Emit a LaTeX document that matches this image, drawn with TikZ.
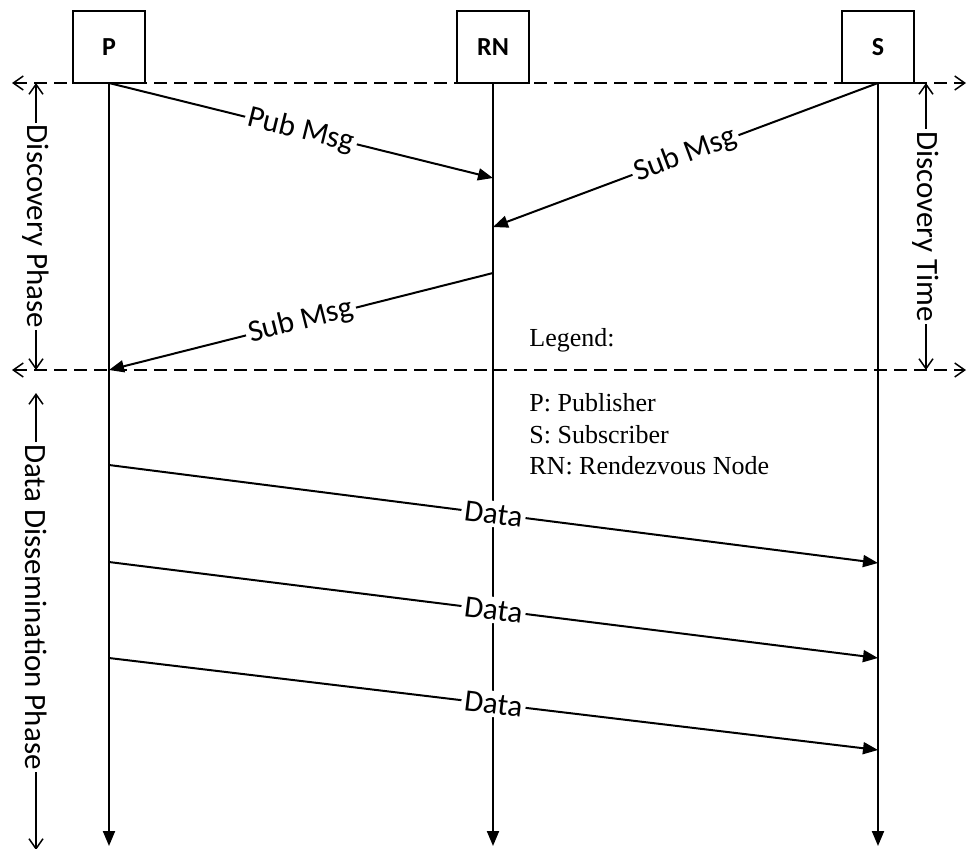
\documentclass[tikz,border=0pt]{standalone}
\usepackage{fontspec}
\setmainfont{Carlito}
\newfontfamily\legendfont{Liberation Serif}
\usetikzlibrary{arrows.meta}

\tikzset{
    barb/.tip={Straight Barb[length=5pt, width=7pt, line width=0.75pt]},
    actor/.style={draw, line width=1pt, minimum size=36pt, inner sep=0pt,
        font=\fontsize{13}{15}\selectfont\bfseries},
    lifeline/.style={line width=1pt, -{Triangle[length=7.5pt, width=6pt]}},
    msg/.style={line width=1pt, -{Triangle[length=7.5pt, width=6pt]}},
    msglabel/.style={midway, sloped, fill=white, inner sep=1.5pt,
        font=\fontsize{15.5}{18}\selectfont},
    phase/.style={line width=1pt, dash pattern=on 6.5pt off 3.5pt, barb-barb},
    dim/.style={line width=0.75pt, barb-barb},
    dimlabel/.style={rotate=-90, fill=white, inner sep=1pt,
        font=\fontsize{15.5}{18}\selectfont},
    legendtext/.style={anchor=base west, inner sep=0pt,
        font=\legendfont\fontsize{13}{15}\selectfont},
}

\begin{document}
\begin{tikzpicture}[x=0.5pt, y=-0.5pt]

    \useasboundingbox (0,0) rectangle (970,848);

    % the three parties
    \node[actor] (P) at (109,47) {P};
    \node[actor] (RN) at (493,47) {RN};
    \node[actor] (S) at (878,47) {S};

    \coordinate (Pend) at (109,846);
    \coordinate (RNend) at (493,846);
    \coordinate (Send) at (878,846);

    % phase boundaries
    \coordinate (top1) at (12,83);
    \coordinate (top2) at (966,83);
    \coordinate (mid1) at (12,370);
    \coordinate (mid2) at (966,370);
    \path[draw, phase] (top1) -- (top2);
    \path[draw, phase] (mid1) -- (mid2);

    % lifelines
    \path[draw, lifeline] (P.south) -- (Pend);
    \path[draw, lifeline] (RN.south) -- (RNend);
    \path[draw, lifeline] (S.south) -- (Send);

    % message end points on the lifelines
    \coordinate (p0) at (109,83);
    \coordinate (p1) at (109,370);
    \coordinate (p2) at (109,465);
    \coordinate (p3) at (109,562);
    \coordinate (p4) at (109,658);
    \coordinate (rn1) at (493,178);
    \coordinate (rn2) at (493,227);
    \coordinate (rn3) at (493,273);
    \coordinate (s0) at (878,83);
    \coordinate (s2) at (878,563);
    \coordinate (s3) at (878,658);
    \coordinate (s4) at (878,750);

    % discovery
    \path[draw, msg] (p0) -- node[msglabel] {Pub Msg} (rn1);
    \path[draw, msg] (s0) -- node[msglabel] {Sub Msg} (rn2);
    \path[draw, msg] (rn3) -- node[msglabel] {Sub Msg} (p1);

    % dissemination
    \path[draw, msg] (p2) -- node[msglabel] {Data} (s2);
    \path[draw, msg] (p3) -- node[msglabel] {Data} (s3);
    \path[draw, msg] (p4) -- node[msglabel] {Data} (s4);

    % phase lengths
    \coordinate (dpA) at (36,83);
    \coordinate (dpB) at (36,370);
    \coordinate (ddA) at (36,393);
    \coordinate (ddB) at (36,850);
    \coordinate (dtA) at (926,83);
    \coordinate (dtB) at (926,370);
    \path[draw, dim] (dpA) -- node[dimlabel] {Discovery Phase} (dpB);
    \path[draw, dim] (ddA) -- node[dimlabel, pos=0.468] {Data Dissemination Phase} (ddB);
    \path[draw, dim] (dtA) -- node[dimlabel] {Discovery Time} (dtB);

    % legend
    \node[legendtext] (legend) at (529,346) {Legend:};
    \node[legendtext] (keyP) at (529,411) {P: Publisher};
    \node[legendtext] (keyS) at (529,443) {S: Subscriber};
    \node[legendtext] (keyRN) at (529,474) {RN: Rendezvous Node};

\end{tikzpicture}
\end{document}
